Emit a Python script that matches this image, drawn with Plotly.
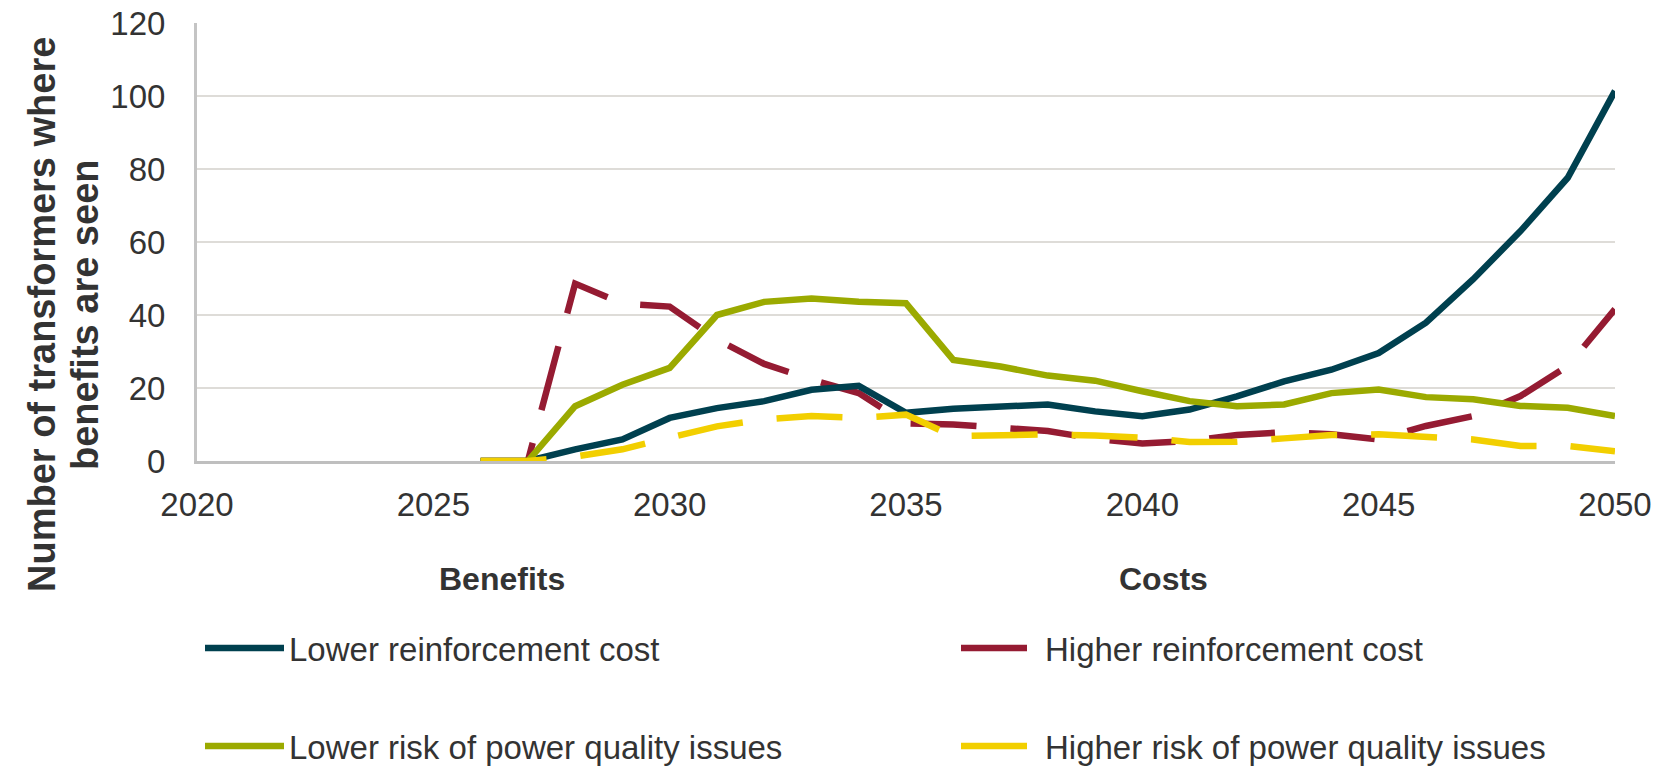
import plotly.graph_objects as go

years = list(range(2026, 2051))
lower_reinf = [0, 0, 3.2, 5.9, 11.8, 14.5, 16.4, 19.5, 20.6, 13.2, 14.3, 15.0, 15.5, 13.6, 12.3,
               14.1, 17.7, 21.8, 25.0, 29.6, 37.9, 49.8, 63.0, 77.6, 101.4]
higher_reinf = [0, 0, 48.6, 43.1, 42.3, 33.3, 26.6, 22.3, 18.6, 10.3, 10.0, 9.1, 8.2, 6.1, 4.8,
                5.5, 7.1, 7.9, 7.3, 5.9, 9.6, 12.3, 17.8, 26.0, 41.6]
lower_risk = [0, 0, 15.0, 20.9, 25.5, 40.0, 43.6, 44.5, 43.6, 43.2, 27.7, 25.9, 23.4, 22.0, 19.1,
              16.4, 15.0, 15.5, 18.6, 19.6, 17.5, 16.9, 15.1, 14.6, 12.3]
higher_risk = [0, 0, 1.2, 3.2, 6.4, 9.5, 11.4, 12.3, 11.8, 12.7, 6.8, 7.1, 7.3, 7.0, 6.4,
               5.2, 5.3, 6.2, 7.1, 7.3, 6.4, 5.9, 4.1, 4.1, 2.7]

names = ["Lower reinforcement cost", "Higher reinforcement cost",
         "Lower risk of power quality issues", "Higher risk of power quality issues"]
x_ticks = [2020, 2025, 2030, 2035, 2040, 2045, 2050]
y_ticks = [0, 20, 40, 60, 80, 100, 120]

TEAL = "#00404F"
RED = "#951B32"
GREEN = "#9BAA00"
YELLOW = "#F2CF00"
TXT = "#333333"
FONT = "Liberation Sans, Arial, sans-serif"

W, H = 1663, 771
L, R, T, B = 197, 48, 23, 310
PW, PH = W - L - R, H - T - B


def px(xp):
    return (xp - L) / PW


def py(yp):
    return (H - B - yp) / PH


def cx(xp):
    return xp / W


def cy(yp):
    return 1 - yp / H


DASH = "66px,34px"
fig = go.Figure()
fig.add_trace(go.Scatter(x=years, y=higher_reinf, name=names[1], mode="lines",
                         line=dict(color=RED, width=6.5, dash=DASH), legend="legend2"))
fig.add_trace(go.Scatter(x=years, y=lower_reinf, name=names[0], mode="lines",
                         line=dict(color=TEAL, width=6.5), legend="legend"))
fig.add_trace(go.Scatter(x=years, y=lower_risk, name=names[2], mode="lines",
                         line=dict(color=GREEN, width=6.5), legend="legend3"))
fig.add_trace(go.Scatter(x=years, y=higher_risk, name=names[3], mode="lines",
                         line=dict(color=YELLOW, width=6.5, dash=DASH), legend="legend4"))

leg_common = dict(orientation="h", xanchor="left", yanchor="middle",
                  xref="container", yref="container",
                  font=dict(family=FONT, size=33, color=TXT),
                  itemwidth=79, bgcolor="rgba(0,0,0,0)",
                  itemclick=False, itemdoubleclick=False)

fig.update_layout(
    width=W, height=H,
    margin=dict(l=L, r=R, t=T, b=B, pad=0, autoexpand=False),
    paper_bgcolor="white", plot_bgcolor="white",
    font=dict(family=FONT, size=33, color=TXT),
    showlegend=True,
    legend=dict(x=cx(200), y=cy(648), **leg_common),
    legend2=dict(x=cx(956), y=cy(648), **leg_common),
    legend3=dict(x=cx(200), y=cy(746), **leg_common),
    legend4=dict(x=cx(956), y=cy(746), **leg_common),
    xaxis=dict(range=[2020, 2050], tickvals=x_ticks, ticktext=[str(v) for v in x_ticks],
               showgrid=False, showline=True, linecolor="#BFBFBF", linewidth=3,
               zeroline=False, ticks="", ticklabelstandoff=12, automargin=False,
               tickfont=dict(family=FONT, size=33, color=TXT)),
    yaxis=dict(range=[0, 120], tickvals=y_ticks, ticktext=[str(v) for v in y_ticks],
               showgrid=True, gridcolor="#DEDCD8", gridwidth=2,
               showline=True, linecolor="#C4C4C4", linewidth=3,
               zeroline=False, ticks="", ticklabelstandoff=22, automargin=False,
               tickfont=dict(family=FONT, size=33, color=TXT)),
    annotations=[
        dict(text="<b>Number of transformers where</b>", x=px(42), y=py(315),
             xref="paper", yref="paper", xanchor="center", yanchor="middle",
             textangle=-90, showarrow=False, font=dict(family=FONT, size=38, color=TXT)),
        dict(text="<b>benefits are seen</b>", x=px(85), y=py(315),
             xref="paper", yref="paper", xanchor="center", yanchor="middle",
             textangle=-90, showarrow=False, font=dict(family=FONT, size=38, color=TXT)),
        dict(text="<b>Benefits</b>", x=px(502), y=py(579), xref="paper", yref="paper",
             xanchor="center", yanchor="middle", showarrow=False,
             font=dict(family=FONT, size=32, color=TXT)),
        dict(text="<b>Costs</b>", x=px(1163), y=py(579), xref="paper", yref="paper",
             xanchor="center", yanchor="middle", showarrow=False,
             font=dict(family=FONT, size=32, color=TXT)),
    ],
)

fig.write_html("out.html")
